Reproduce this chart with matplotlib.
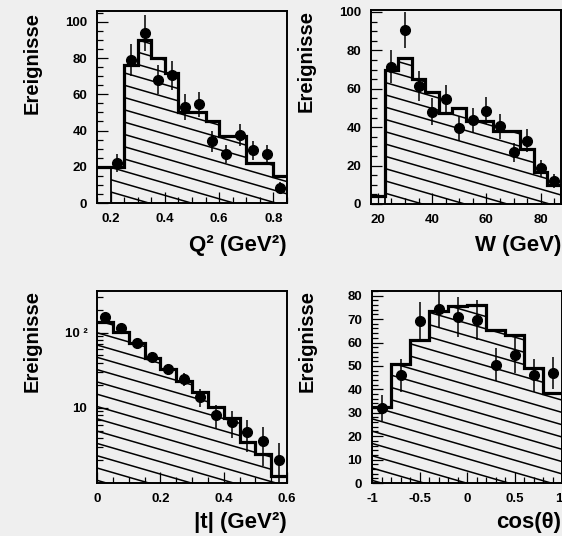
import numpy as np
import matplotlib
matplotlib.use("Agg")
import matplotlib.pyplot as plt
from matplotlib.ticker import MultipleLocator, FixedLocator, NullFormatter, LogLocator

plt.rcParams['font.family'] = 'Liberation Sans'
plt.rcParams['font.weight'] = 'bold'
plt.rcParams['axes.unicode_minus'] = False

# Q^2 distribution
q2_edges = [0.15, 0.20, 0.25, 0.30, 0.35, 0.40, 0.45, 0.50, 0.55, 0.60, 0.65, 0.70, 0.75, 0.80, 0.85]
q2_mc = [20, 20, 76, 90, 80, 72, 50, 50, 45, 37, 37, 22, 22, 15]
q2_x = [0.225, 0.275, 0.325, 0.375, 0.425, 0.475, 0.525, 0.575, 0.625, 0.675, 0.725, 0.775, 0.825]
q2_data = [22, 79, 94, 68, 70.5, 53, 54.5, 34, 27, 37.5, 29, 27, 8.5]
q2_err = [5, 9, 10, 8, 8, 7, 7, 6, 5, 6, 5, 5, 3]

# W distribution
w_edges = [17.5, 22.5, 27.5, 32.5, 37.5, 42.5, 47.5, 52.5, 57.5, 62.5, 67.5, 72.5, 77.5, 82.5, 87.5]
w_mc = [4, 70, 76, 65, 58.5, 47.5, 50, 43, 43, 38, 38, 28.5, 16.5, 10]
w_x = [25, 30, 35, 40, 45, 50, 55, 60, 65, 70, 75, 80, 85]
w_data = [71.5, 90.5, 61.5, 48, 54.5, 39.5, 43.5, 48.5, 40.5, 27, 33, 18.5, 12]
w_err = [8.5, 9.5, 8, 7, 7.5, 6.5, 6.5, 7, 6.5, 5, 6, 4.5, 3.5]

# |t| distribution (log)
t_edges = [0.0, 0.05, 0.10, 0.15, 0.20, 0.25, 0.30, 0.35, 0.40, 0.45, 0.50, 0.55, 0.60]
t_mc = [138, 102, 72, 45.5, 33, 22.5, 16.5, 10.2, 7.4, 3.5, 2.4, 1.25]
t_x = [0.025, 0.075, 0.125, 0.175, 0.225, 0.275, 0.325, 0.375, 0.425, 0.475, 0.525, 0.575]
t_data = [161, 115, 72, 48, 33, 24.5, 14, 8, 6.5, 4.8, 3.6, 2.0]
t_err = [13, 11, 8.5, 7, 5.7, 5, 3.7, 2.8, 2.5, 2.2, 1.9, 1.4]

# cos(theta) distribution
cos_edges = [-1.0, -0.8, -0.6, -0.4, -0.2, 0.0, 0.2, 0.4, 0.6, 0.8, 1.0]
cos_mc = [32.5, 51, 61, 73.5, 75.5, 76, 65.5, 63, 49, 38.5]
cos_x = [-0.9, -0.7, -0.5, -0.3, -0.1, 0.1, 0.3, 0.5, 0.7, 0.9]
cos_data = [32, 46, 69, 74.5, 71, 69.5, 50.5, 54.5, 46, 47]
cos_err = [5.5, 7, 8.5, 8.5, 8.5, 8.5, 7, 7.5, 7, 7]

paper = '#efefef'
W, H = 562, 536
fig = plt.figure(figsize=(W / 100, H / 100), dpi=100, facecolor=paper)


def box(l, t, r, b):
    # pixel box -> figure fraction
    return [l / W, 1 - b / H, (r - l) / W, (b - t) / H]


def shade(ax, edges, mc, start, base):
    # hatched region with shallow diagonal lines, thick outline on top
    reg = ax.stairs(mc[start:], edges[start:], baseline=base, fill=True,
                    facecolor='none', edgecolor='black', lw=1.3, zorder=2)
    pos = ax.get_position()
    wpx, hpx = pos.width * W, pos.height * H
    slope = -0.29 * wpx / hpx
    step = 12.3 / hpx
    for c in np.arange(-0.05, 1.0 - slope + step, step):
        ln, = ax.plot([0, 1], [c, c + slope], transform=ax.transAxes,
                      color='black', lw=1.1, zorder=2)
        ln.set_clip_path(reg)
    ax.stairs(mc, edges, baseline=None, color='black', lw=2.3, zorder=3)


def style(ax, xmaj, xmin, ymaj=None, ymin=None):
    ax.set_facecolor(paper)
    for s in ax.spines.values():
        s.set_linewidth(1.4)
    ax.xaxis.set_major_locator(MultipleLocator(xmaj))
    ax.xaxis.set_minor_locator(MultipleLocator(xmin))
    if ymaj is not None:
        ax.yaxis.set_major_locator(MultipleLocator(ymaj))
        ax.yaxis.set_minor_locator(MultipleLocator(ymin))
    ax.tick_params(which='both', direction='in', top=False, right=False,
                   width=0.9, labelsize=9.5, colors='black')
    ax.tick_params(which='major', length=8, pad=7)
    ax.tick_params(which='minor', length=4.5)


def points(ax, x, y, err):
    ax.errorbar(x, y, yerr=err, fmt='o', color='black', ms=7,
                elinewidth=1.1, capsize=0, zorder=4, clip_on=True)


def ylab(xpx, ypx):
    fig.text(xpx / W, 1 - ypx / H, 'Ereignisse', rotation=90, ha='center', va='top',
             fontsize=14.5, fontweight='bold')


def xlab(xpx, ypx, s):
    fig.text(xpx / W, 1 - ypx / H, s, ha='right', va='baseline',
             fontsize=16, fontweight='bold')


# top left: Q^2
ax1 = fig.add_axes(box(97, 11, 287, 203))
ax1.set_xlim(0.15, 0.85)
ax1.set_ylim(0, 106)
shade(ax1, q2_edges, q2_mc, 1, 0)
points(ax1, q2_x, q2_data, q2_err)
style(ax1, 0.2, 0.05, 20, 5)
ylab(32, 12)
xlab(287, 251, 'Q² (GeV²)')

# top right: W
ax2 = fig.add_axes(box(371, 10, 561, 204))
ax2.set_xlim(17.5, 87.5)
ax2.set_ylim(0, 101)
shade(ax2, w_edges, w_mc, 1, 0)
points(ax2, w_x, w_data, w_err)
style(ax2, 20, 5, 20, 5)
ylab(306, 10)
xlab(561, 251, 'W (GeV)')

# bottom left: |t|
ax3 = fig.add_axes(box(97, 291, 287, 483))
ax3.set_yscale('log')
ax3.set_xlim(0, 0.6)
ax3.set_ylim(1, 360)
shade(ax3, t_edges, t_mc, 0, 0.01)
points(ax3, t_x, t_data, t_err)
style(ax3, 0.2, 0.05)
ax3.yaxis.set_major_locator(FixedLocator([10, 100]))
ax3.yaxis.set_minor_locator(LogLocator(subs=np.arange(2, 10)))
ax3.yaxis.set_minor_formatter(NullFormatter())
ax3.set_yticklabels(['10', '10 ²'])
ax3.set_xticks([0, 0.2, 0.4, 0.6])
ax3.set_xticklabels(['0', '0.2', '0.4', '0.6'])
ylab(32, 290)
xlab(287, 528, '|t| (GeV²)')

# bottom right: cos(theta)
ax4 = fig.add_axes(box(372, 291, 562, 483))
ax4.set_xlim(-1, 1)
ax4.set_ylim(0, 82)
shade(ax4, cos_edges, cos_mc, 0, 0)
points(ax4, cos_x, cos_data, cos_err)
style(ax4, 0.5, 0.1, 10, 2)
ax4.set_xticks([-1, -0.5, 0, 0.5, 1])
ax4.set_xticklabels(['-1', '-0.5', '0', '0.5', '1'])
# last label sits at the page edge, keep it inside
ax4.get_xticklabels()[-1].set_ha('right')
ylab(307, 290)
xlab(561, 528, 'cos(θ)')

fig.savefig('out.png', dpi=100, facecolor=paper)
